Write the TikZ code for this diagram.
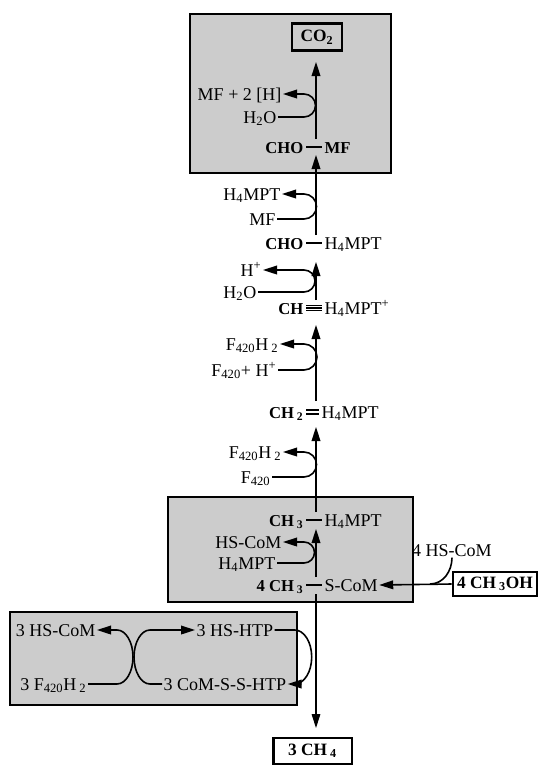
\documentclass[tikz,border=0pt]{standalone}
\usepackage{fontspec}
\setmainfont{Liberation Serif}
\usetikzlibrary{arrows.meta, positioning}

\begin{document}
\begin{tikzpicture}[
  x=0.75pt, y=0.75pt,
  lbl/.style={inner sep=1pt, text height=9pt, text depth=0pt, font=\fontsize{13.5}{15}\selectfont},
  blbl/.style={lbl, font=\fontsize{12.5}{15}\selectfont\bfseries},
  panel/.style={draw, line width=1pt, fill=black!20},
  endbox/.style={draw, line width=2pt, fill=white, inner sep=2pt, font=\fontsize{13}{15}\selectfont\bfseries},
  arr/.style={-{Triangle[length=10.5pt, width=6.5pt]}, line width=1.2pt},
  lnk/.style={line width=1.2pt},
  bond/.style={line width=1.1pt, shorten <=1pt, shorten >=1pt}
]
\useasboundingbox (0,0) rectangle (539,-765);

% shaded panels
\draw[panel] (190,-14) rectangle (391,-173);
\draw[panel] (168,-497) rectangle (413,-602);
\draw[panel] (10,-612) rectangle (297,-705);

% start of the side loops
\coordinate (lp) at (304,0);

% main chain
\node[endbox, fill=black!20, minimum width=37.5pt, minimum height=20pt] (co2) at (317,-37) {CO\textsubscript{2}};

\node[blbl, anchor=east] (cho1) at (305,-147) {CHO};
\node[blbl, anchor=west] (mf1) at (323,-147) {MF};
\draw[bond] (cho1) -- (mf1);

\node[blbl, anchor=east] (cho2) at (305,-243) {CHO};
\node[lbl, anchor=west] (h4mpt2r) at (323,-243) {H\textsubscript{4}MPT};
\draw[bond] (cho2) -- (h4mpt2r);

\node[blbl, anchor=east] (ch3) at (305,-308) {CH};
\node[lbl, anchor=west] (h4mptp) at (323,-308) {H\textsubscript{4}MPT\textsuperscript{+}};
\draw[bond, line width=0.8pt] ([yshift=2.2pt]ch3.east) -- ([yshift=2.2pt]h4mptp.west);
\draw[bond, line width=0.8pt] (ch3.east) -- (h4mptp.west);
\draw[bond, line width=0.8pt] ([yshift=-2.2pt]ch3.east) -- ([yshift=-2.2pt]h4mptp.west);

\node[blbl, anchor=east] (ch2) at (305,-412) {CH\,\textsubscript{2}};
\node[lbl, anchor=west] (h4mpt4) at (320,-412) {H\textsubscript{4}MPT};
\draw[bond, line width=0.8pt] ([yshift=1.5pt]ch2.east) -- ([yshift=1.5pt]h4mpt4.west);
\draw[bond, line width=0.8pt] ([yshift=-1.5pt]ch2.east) -- ([yshift=-1.5pt]h4mpt4.west);

\node[blbl, anchor=east] (ch3m) at (305,-520) {CH\,\textsubscript{3}};
\node[lbl, anchor=west] (h4mpt5) at (323,-520) {H\textsubscript{4}MPT};
\draw[bond] (ch3m) -- (h4mpt5);

\node[blbl, anchor=east] (mch3) at (305,-585) {4 CH\,\textsubscript{3}};
\node[lbl, anchor=west] (scom) at (323,-585) {S-CoM};
\draw[bond] (mch3) -- (scom);

% axis points
\coordinate (t1) at (316,-62);  \coordinate (s1) at (316,-139);
\coordinate (t2) at (316,-155); \coordinate (s2) at (316,-235);
\coordinate (t3) at (316,-262); \coordinate (s3) at (316,-300);
\coordinate (t4) at (316,-325); \coordinate (s4) at (316,-401);
\coordinate (t5) at (316,-427); \coordinate (s5) at (316,-512);
\coordinate (t6) at (316,-529); \coordinate (s6) at (316,-577);
\coordinate (s7) at (316,-594); \coordinate (t7) at (316,-728);

\draw[arr] (s1) -- (t1);
\draw[arr] (s2) -- (t2);
\draw[arr] (s3) -- (t3);
\draw[arr] (s4) -- (t4);
\draw[arr] (s5) -- (t5);
\draw[arr] (s6) -- (t6);

% side reactions
\node[lbl, anchor=east] (mfh) at (283,-94) {MF + 2 [H]};
\node[lbl, anchor=east] (wat1) at (278,-117) {H\textsubscript{2}O};
\draw[arr] (wat1.east) -- (wat1.east -| lp) arc[start angle=-90, end angle=90, radius=11.5] -- (mfh.east);

\node[lbl, anchor=east] (h4mpt2) at (282,-194) {H\textsubscript{4}MPT};
\node[lbl, anchor=east] (mf2) at (277,-219) {MF};
\draw[arr] (mf2.east) -- (mf2.east -| lp) arc[start angle=-90, end angle=90, radius=12.5] -- (h4mpt2.east);

\node[lbl, anchor=east] (hplus) at (263,-270) {H\textsuperscript{+}};
\node[lbl, anchor=east] (wat3) at (258,-292) {H\textsubscript{2}O};
\draw[arr] (wat3.east) -- (wat3.east -| lp) arc[start angle=-90, end angle=90, radius=11] -- (hplus.east);

\node[lbl, anchor=east] (f420h2a) at (280,-344) {F\textsubscript{420}H\,\textsubscript{2}};
\node[lbl, anchor=east] (f420h) at (278,-370) {F\textsubscript{420}+ H\textsuperscript{+}};
\draw[arr] (f420h.east) -- (f420h.east -| lp) arc[start angle=-90, end angle=90, radius=13] -- (f420h2a.east);

\node[lbl, anchor=east] (f420h2c) at (283,-452) {F\textsubscript{420}H\,\textsubscript{2}};
\node[lbl, anchor=east] (f420) at (272,-477) {F\textsubscript{420}};
\draw[arr] (f420.east) -- (f420.east -| lp) arc[start angle=-90, end angle=90, radius=12.5] -- (f420h2c.east);

\node[lbl, anchor=east] (hscom) at (283,-542) {HS-CoM};
\node[lbl, anchor=east] (h4mpt6) at (277,-563) {H\textsubscript{4}MPT};
\draw[arr] (h4mpt6.east) -- (h4mpt6.east -| lp) arc[start angle=-90, end angle=90, radius=10.5] -- (hscom.east);

% methanol input
\node[endbox, minimum width=63pt, minimum height=18pt] (meoh) at (495,-584) {4 CH\,\textsubscript{3}OH};
\node[lbl] (hscom4) at (452,-550) {4 HS-CoM};
\coordinate (j1) at (430,-584);
\draw[arr] (meoh.west) -- (scom.east);
\draw[lnk] (hscom4.south) to[out=-90, in=0] (j1);

% methane output
\node[endbox, minimum width=59pt, minimum height=19.5pt] (ch4) at (312.5,-751) {3 CH\,\textsubscript{4}};
\draw[arr, line width=0.8pt] (s7) -- (t7);

% heterodisulfide reduction
\node[lbl, anchor=east] (hscom3) at (97,-630) {3 HS-CoM};
\node[lbl, anchor=east] (f420h2b) at (88,-684) {3 F\textsubscript{420}H\,\textsubscript{2}};
\node[lbl, anchor=west] (hshtp) at (195,-630) {3 HS-HTP};
\node[lbl, anchor=west] (comss) at (162,-684) {3 CoM-S-S-HTP};
\draw[arr] (f420h2b.east) -- ++(29,0) arc[start angle=-90, end angle=90, x radius=16, y radius=27] -- (hscom3.east);
\draw[arr] (comss.west) -- ++(-12,0) arc[start angle=270, end angle=90, x radius=16, y radius=27] -- (hshtp.west);
\draw[arr] (hshtp.east) -- ++(20,0) arc[start angle=90, end angle=-90, x radius=17, y radius=27] -- (comss.east);
\end{tikzpicture}
\end{document}
